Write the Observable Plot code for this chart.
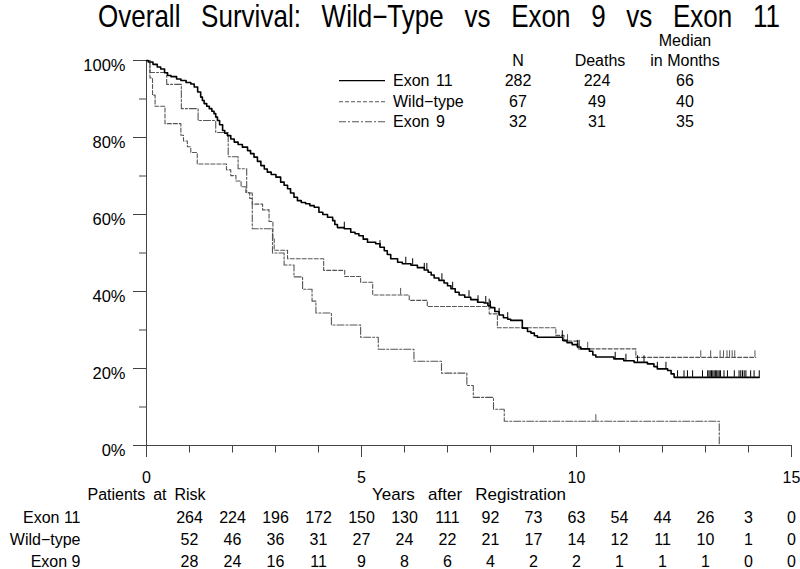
<!DOCTYPE html>
<html><head><meta charset="utf-8">
<script src="https://cdn.jsdelivr.net/npm/d3@7"></script>
<script src="https://cdn.jsdelivr.net/npm/@observablehq/plot@0.6"></script>
<style>
body{margin:0;background:#fff;}
#chart svg{display:block;}
</style></head><body><div id="chart"></div>
<script>
// ---------- data ----------
const titleText = "Overall Survival: Wild\u2212Type vs Exon 9 vs Exon 11";
const groups = ["Exon 11", "Wild\u2212type", "Exon 9"];
const groupN = [282, 67, 32];
const groupDeaths = [224, 49, 31];
const groupMedian = [66, 40, 35];

// Kaplan-Meier curves: [years, survival %]
const exon11Curve = [[0,100],[0.04,99.6],[0.15,99.0],[0.25,98.3],[0.33,97.8],[0.42,96.8],[0.49,96.1],[0.57,95.8],[0.7,95.2],[0.8,94.8],[0.92,94.3],[1.03,93.9],[1.11,93.1],[1.19,91.8],[1.26,90.5],[1.3,89.6],[1.34,88.8],[1.4,88.1],[1.46,87.5],[1.52,86.8],[1.57,86.2],[1.61,85.3],[1.65,84.4],[1.7,83.3],[1.77,81.8],[1.82,81.1],[1.88,80.5],[1.96,79.6],[2.04,78.8],[2.13,78.2],[2.23,77.5],[2.35,76.6],[2.42,75.8],[2.5,74.9],[2.58,73.8],[2.66,72.7],[2.74,71.8],[2.81,71.0],[2.9,70.4],[3.01,69.7],[3.12,68.4],[3.2,67.6],[3.28,66.7],[3.35,65.6],[3.43,64.5],[3.51,63.6],[3.6,63.1],[3.7,62.8],[3.8,62.3],[3.9,61.9],[4.01,60.6],[4.1,60.0],[4.21,59.3],[4.33,58.4],[4.38,57.4],[4.44,56.6],[4.6,56.3],[4.75,55.4],[4.85,55.0],[4.94,54.5],[5.04,53.6],[5.14,52.8],[5.33,52.4],[5.43,51.5],[5.53,50.6],[5.6,49.6],[5.68,48.5],[5.84,47.6],[5.95,47.2],[6.15,46.8],[6.3,46.2],[6.46,45.6],[6.55,45.0],[6.62,44.3],[6.69,43.5],[6.8,42.9],[6.92,42.2],[7.0,41.5],[7.08,40.7],[7.18,39.8],[7.27,39.1],[7.4,38.5],[7.54,37.9],[7.7,37.2],[7.85,37.0],[7.94,36.3],[8.0,35.8],[8.1,34.8],[8.2,33.9],[8.3,33.2],[8.4,32.8],[8.47,32.5],[8.74,30.5],[8.86,29.6],[8.94,29.2],[9.02,28.5],[9.09,28.1],[9.68,27.3],[9.78,26.7],[9.9,26.2],[10.02,25.6],[10.1,25.1],[10.3,24.5],[10.38,23.5],[10.45,23.0],[10.87,22.5],[11.1,22.0],[11.34,21.6],[11.65,21.2],[11.8,20.5],[11.88,19.9],[12.12,19.5],[12.2,18.6],[12.27,17.7],[14.25,17.7]];
const wildCurve = [[0,100],[0.08,95.5],[0.14,91.0],[0.2,88.1],[0.43,83.6],[0.8,80.6],[0.86,79.1],[0.95,77.6],[1.03,76.1],[1.18,73.1],[1.86,71.6],[1.96,70.1],[2.08,68.7],[2.2,67.2],[2.31,65.7],[2.4,64.2],[2.46,62.7],[2.7,61.2],[2.85,58.2],[2.94,53.7],[2.97,50.7],[3.28,48.5],[4.12,45.5],[4.61,43.9],[4.98,42.4],[5.26,39.1],[6.11,37.7],[6.53,36.1],[7.97,34.2],[8.16,30.6],[9.52,28.6],[9.71,27.1],[10.03,25.1],[11.38,22.9],[14.17,22.9]];
const exon9Curve = [[0,100],[0.08,96.9],[0.47,93.8],[0.81,87.5],[1.2,84.4],[1.61,81.3],[1.9,75.0],[2.13,71.9],[2.33,65.6],[2.46,56.3],[2.93,50.0],[3.2,46.9],[3.43,43.8],[3.63,40.6],[3.85,37.5],[3.94,34.4],[4.3,31.3],[4.98,28.1],[5.39,25.0],[6.22,21.9],[6.86,18.8],[7.45,15.6],[7.6,12.5],[8.07,9.4],[8.32,6.3],[13.32,0]];

// censoring times (years)
const exon11Censor = [4.6,5.43,6.03,6.19,6.46,6.52,6.87,7.12,7.5,7.71,7.89,7.97,8.0,8.2,8.4,9.67,10.02,10.06,10.9,11.15,11.42,11.57,11.88,12.08,12.35,12.5,12.58,12.7,12.93,13.05,13.08,13.11,13.14,13.17,13.2,13.23,13.26,13.29,13.32,13.35,13.43,13.51,13.67,13.78,13.82,13.86,13.9,13.94,14.05,14.13,14.25];
const wildCensor = [5.91,9.79,10.26,12.89,13.12,13.34,13.42,13.5,13.56,13.62,13.68,14.15];
const exon9Censor = [10.45];

// patients at risk
const riskTimes = [1,2,3,4,5,6,7,8,9,10,11,12,13,14,15];
const riskExon11 = [264,224,196,172,150,130,111,92,73,63,54,44,26,3,0];
const riskWild = [52,46,36,31,27,24,22,21,17,14,12,11,10,1,0];
const riskExon9 = [28,24,16,11,9,8,6,4,2,2,1,1,1,0,0];

// axis ticks
const xMajor = [0,5,10,15];
const xMinor = [0,1,2,3,4,5,6,7,8,9,10,11,12,13,14,15];
const yMajor = [0,20,40,60,80,100];
const yMinor = [0,10,20,30,40,50,60,70,80,90,100];

// ---------- styles ----------
const FONT = "'Liberation Sans', Arial, Helvetica, sans-serif";
const AXIS = "#444";
const styles = {
  "Exon 11": {stroke: "#000", width: 1.6, dash: null},
  "Wild\u2212type": {stroke: "#555", width: 1.1, dash: "4,2"},
  "Exon 9": {stroke: "#555", width: 1.1, dash: "7,2,2,2"}
};

const toRows = (pairs, group) => pairs.map(([t, s]) => ({group, t, s}));
const survAt = (pairs, t) => { let s = pairs[0][1]; for (const [ti, si] of pairs) { if (ti <= t) s = si; else break; } return s; };
const censRows = (times, pairs, group) => times.map(t => ({group, t, s: survAt(pairs, t)}));

const curves = [[exon9Curve, groups[2], exon9Censor], [wildCurve, groups[1], wildCensor], [exon11Curve, groups[0], exon11Censor]];

const marks = [];
// axis lines and ticks
marks.push(Plot.ruleY([0], {x1: 0, x2: 15, stroke: AXIS}));
marks.push(Plot.ruleX([0], {y1: 0, y2: 100, stroke: AXIS}));
marks.push(Plot.axisY(yMinor, {tickSize: 7, tickFormat: () => "", stroke: AXIS, label: null}));
marks.push(Plot.axisY(yMajor, {tickSize: 13, tickFormat: () => "", stroke: AXIS, label: null}));
marks.push(Plot.axisX(xMinor, {tickSize: 7.5, tickFormat: () => "", stroke: AXIS, label: null}));
marks.push(Plot.axisX(xMajor, {tickSize: 12, tickFormat: () => "", stroke: AXIS, label: null}));
// tick labels
marks.push(Plot.text(yMajor, {y: d => d, text: d => d + "%", frameAnchor: "left", dx: -21, dy: 5.3, textAnchor: "end", lineAnchor: "middle", fontSize: 16.5, fill: "#000"}));
marks.push(Plot.text(xMajor, {x: d => d, text: d => String(d), frameAnchor: "bottom", dy: 32.5, lineAnchor: "middle", fontSize: 16, fill: "#000"}));

for (const [pairs, g, cens] of curves) {
  const st = styles[g];
  marks.push(Plot.line(toRows(pairs, g), {x: "t", y: "s", curve: "step-after", stroke: st.stroke, strokeWidth: st.width, strokeDasharray: st.dash}));
  marks.push(Plot.ruleX(censRows(cens, pairs, g), {x: "t", y1: "s", y2: d => d.s + 1.7, stroke: st.stroke, strokeWidth: 1}));
}

// risk table
const riskRows = [riskExon11, riskWild, riskExon9];
const rowDy = [72, 94, 116];
riskRows.forEach((vals, i) => {
  marks.push(Plot.text(riskTimes, {x: d => d, text: (d, j) => String(vals[j]), frameAnchor: "bottom", dy: rowDy[i], lineAnchor: "middle", fontSize: 16, fill: "#000"}));
  marks.push(Plot.text([groups[i]], {text: d => d, frameAnchor: "bottom-left", dx: -66, dy: rowDy[i], textAnchor: "end", lineAnchor: "middle", fontSize: 16, fill: "#000"}));
});
marks.push(Plot.text(["Patients at Risk"], {text: d => d, frameAnchor: "bottom-left", dx: -59, dy: 49, textAnchor: "start", lineAnchor: "middle", fontSize: 16, fill: "#000"}));
marks.push(Plot.text(["Years after Registration"], {text: d => d, frameAnchor: "bottom", dy: 49, lineAnchor: "middle", fontSize: 17, fill: "#000"}));

const chart = Plot.plot({
  width: 800, height: 569,
  marginLeft: 146, marginRight: 9, marginTop: 60, marginBottom: 124,
  style: {fontFamily: FONT, fontSize: "16px", background: "#fff", color: "#000"},
  x: {domain: [0, 15]},
  y: {domain: [0, 100]},
  marks
});
document.getElementById("chart").appendChild(chart);

const svg = d3.select(chart);
// widen word gaps like the original typesetting
const spreadWords = (txt, targetWidth) => {
  svg.selectAll("text").filter(function() { return this.textContent === txt; }).each(function() {
    const gaps = txt.split(" ").length - 1;
    const w = this.getComputedTextLength();
    if (gaps > 0 && w > 0) d3.select(this).style("word-spacing", ((targetWidth - w) / gaps) + "px");
  });
};
spreadWords("Years after Registration", 194);
spreadWords("Patients at Risk", 118);

// title: narrow, widely word-spaced heading spanning x 98..780
const squeeze = 0.84;
const tg = svg.append("g").attr("transform", `translate(98,16) scale(${squeeze},1)`);
const tt = tg.append("text").attr("x", 0).attr("y", 0).attr("dy", "0.35em").attr("text-anchor", "start")
  .attr("font-family", FONT).attr("font-size", 31).attr("fill", "#000").text(titleText);
{
  const w = tt.node().getComputedTextLength();
  const gaps = titleText.split(" ").length - 1;
  tt.style("word-spacing", ((682 / squeeze - w) / gaps) + "px");
}

// legend table
const lg = svg.append("g").attr("font-family", FONT).attr("font-size", 16).attr("fill", "#000");
const rowY = [80.7, 101.7, 121.7];
const colN = 518, colD = 597, colM = 685;
const cell = (x, y, t, anchor = "middle") => lg.append("text").attr("x", x).attr("y", y).attr("dy", "0.35em").attr("text-anchor", anchor).text(t);
cell(colN, 60, "N"); cell(colD + 3, 60, "Deaths"); cell(colM, 40, "Median"); cell(colM, 60, "in Months");
groups.forEach((g, i) => {
  const st = styles[g];
  lg.append("line").attr("x1", 339).attr("x2", 385).attr("y1", rowY[i]).attr("y2", rowY[i])
    .attr("stroke", st.stroke).attr("stroke-width", Math.min(st.width, 1.2)).attr("stroke-dasharray", st.dash);
  cell(393, rowY[i], g, "start").style("word-spacing", "2px");
  cell(colN, rowY[i], groupN[i]);
  cell(colD, rowY[i], groupDeaths[i]);
  cell(colM, rowY[i], groupMedian[i]);
});
</script></body></html>
